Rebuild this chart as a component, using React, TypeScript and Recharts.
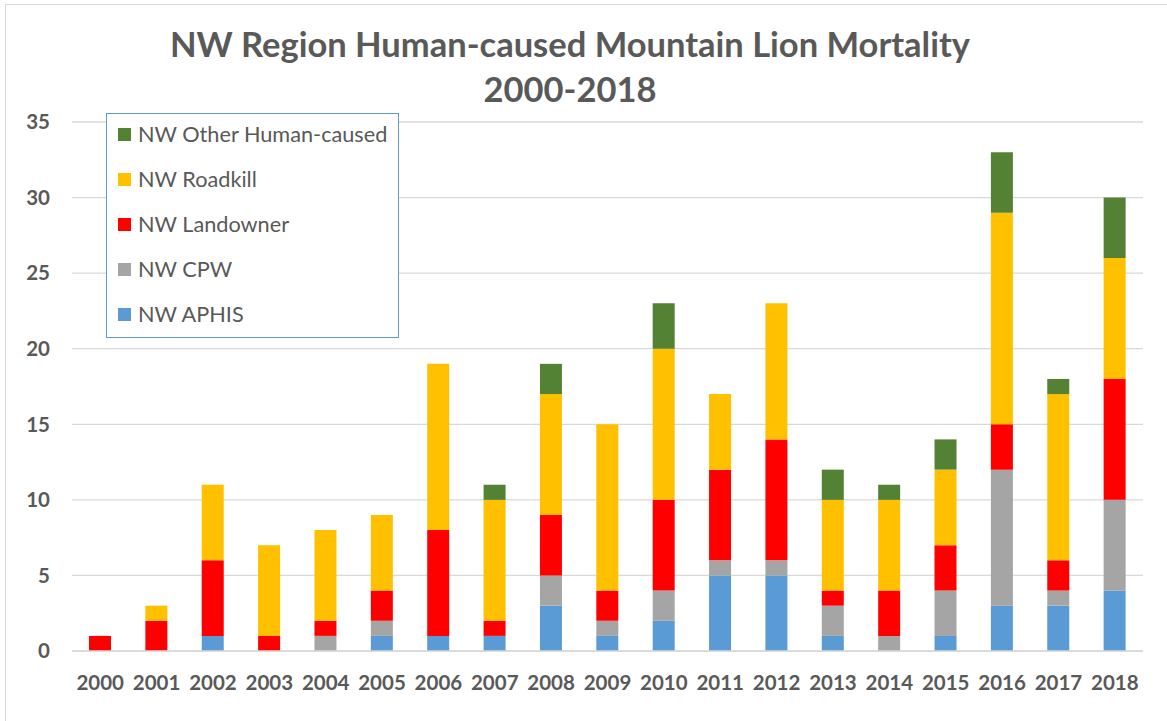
import React from "react";
import { BarChart, Bar, XAxis, YAxis, CartesianGrid, Legend } from "recharts";

const years = ["2000","2001","2002","2003","2004","2005","2006","2007","2008","2009","2010","2011","2012","2013","2014","2015","2016","2017","2018"];
const aphis =     [0,0,1,0,0,1,1,1,3,1,2,5,5,1,0,1,3,3,4];
const cpw =       [0,0,0,0,1,1,0,0,2,1,2,1,1,2,1,3,9,1,6];
const landowner = [1,2,5,1,1,2,7,1,4,2,6,6,8,1,3,3,3,2,8];
const roadkill =  [0,1,5,6,6,5,11,8,8,11,10,5,9,6,6,5,14,11,8];
const other =     [0,0,0,0,0,0,0,1,2,0,3,0,0,2,1,2,4,1,4];
const yTicks = [0,5,10,15,20,25,30,35];

const series = [
  { key: "aphis", name: "NW APHIS", color: "#5B9BD5" },
  { key: "cpw", name: "NW CPW", color: "#A5A5A5" },
  { key: "landowner", name: "NW Landowner", color: "#FF0000" },
  { key: "roadkill", name: "NW Roadkill", color: "#FFC000" },
  { key: "other", name: "NW Other Human-caused", color: "#548235" },
];

const data = years.map((y, i) => ({
  year: y,
  aphis: aphis[i],
  cpw: cpw[i],
  landowner: landowner[i],
  roadkill: roadkill[i],
  other: other[i],
}));

const FONT = "Lato, 'Open Sans', sans-serif";
const TXT = "#595959";

const LegendBox = () => (
  <div
    style={{
      position: "absolute",
      left: 106,
      top: 113,
      width: 293,
      height: 225,
      border: "1.5px solid #5B9BD5",
      boxSizing: "border-box",
      background: "#fff",
      fontFamily: FONT,
    }}
  >
    {[...series].reverse().map((s, i) => (
      <div
        key={s.key}
        style={{
          position: "absolute",
          left: 11,
          top: 20 + i * 45 - 12,
          height: 24,
          display: "flex",
          alignItems: "center",
          whiteSpace: "nowrap",
        }}
      >
        <span style={{ width: 13, height: 13, background: s.color, display: "inline-block", marginRight: 7 }} />
        <span style={{ fontSize: 21.7, color: TXT }}>{s.name}</span>
      </div>
    ))}
  </div>
);

export default function App() {
  return (
    <div style={{ position: "absolute", left: 0, top: 0, width: 1167, height: 721, background: "#fff", overflow: "hidden", fontFamily: FONT }}>
      <div style={{ position: "absolute", left: 5, top: 4, width: 1200, height: 800, border: "1px solid #D9D9D9" }} />
      <div
        style={{
          position: "absolute",
          left: 0,
          width: 1140,
          top: 21,
          textAlign: "center",
          fontSize: 34.5,
          fontWeight: 700,
          color: TXT,
          lineHeight: "45px",
        }}
      >
        NW Region Human-caused Mountain Lion Mortality
        <br />
        2000-2018
      </div>
      <div style={{ position: "absolute", left: 0, top: 0 }}>
        <BarChart width={1167} height={721} data={data} margin={{ top: 122, right: 24, left: 0, bottom: 30 }} barSize={22}>
          <CartesianGrid vertical={false} stroke="#D9D9D9" strokeWidth={1.3} />
          <XAxis
            dataKey="year"
            axisLine={{ stroke: "#D9D9D9", strokeWidth: 1.3 }}
            tickLine={false}
            tickSize={0}
            tickMargin={24}
            height={40}
            interval={0}
            tick={{ fill: TXT, fontSize: 20.5, fontWeight: 700, fontFamily: FONT }}
          />
          <YAxis
            domain={[0, 35]}
            ticks={yTicks}
            axisLine={false}
            tickLine={false}
            tickSize={0}
            tickMargin={22}
            width={72}
            tick={{ fill: TXT, fontSize: 20.5, fontWeight: 700, fontFamily: FONT }}
          />
          <Legend content={() => null} />
          {series.map((s) => (
            <Bar key={s.key} dataKey={s.key} name={s.name} stackId="a" fill={s.color} isAnimationActive={false} />
          ))}
        </BarChart>
      </div>
      <LegendBox />
    </div>
  );
}
